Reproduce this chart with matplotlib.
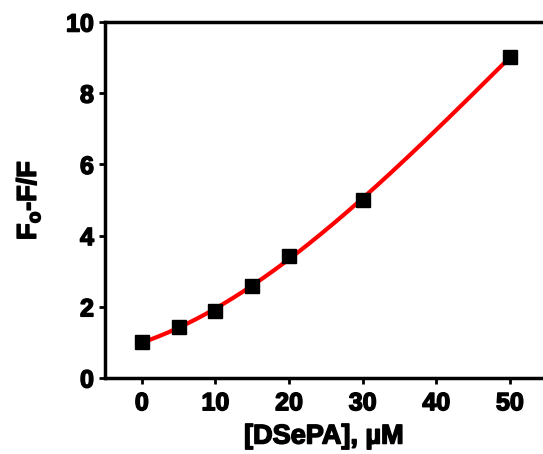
import matplotlib
matplotlib.use("Agg")
import matplotlib.pyplot as plt
import matplotlib.patheffects as pe
import numpy as np

# values
conc_um = [0, 5, 10, 15, 20, 30, 50]
f_ratio = [1.01, 1.42, 1.88, 2.59, 3.44, 5.0, 9.01]
x_ticks = [0, 10, 20, 30, 40, 50]
y_ticks = [0, 2, 4, 6, 8, 10]

plt.rcParams["font.family"] = ["Liberation Sans", "DejaVu Sans"]
plt.rcParams["font.weight"] = "bold"
plt.rcParams["mathtext.fontset"] = "custom"
plt.rcParams["mathtext.rm"] = "Liberation Sans:bold"
plt.rcParams["mathtext.bf"] = "Liberation Sans:bold"

heavy = [pe.withStroke(linewidth=1.1, foreground="black")]

fig = plt.figure(figsize=(5.43, 4.54), dpi=100)
ax = fig.add_axes([0.1934, 0.1674, 0.8066, 0.7841])

# smooth fitted curve through the measured points
coef = np.polyfit(conc_um, f_ratio, 3)
xs = np.linspace(min(conc_um), max(conc_um), 200)
ax.plot(xs, np.polyval(coef, xs), color="red", lw=3, zorder=2)
ax.plot(conc_um, f_ratio, "s", color="black", ms=9.5, zorder=3)

ax.set_xlim(-5, 54.5)
ax.set_ylim(0, 10)
ax.set_xticks(x_ticks)
ax.set_yticks(y_ticks)
for side in ["left", "bottom", "top"]:
    ax.spines[side].set_linewidth(2.5)
ax.spines["right"].set_visible(False)
ax.tick_params(direction="out", length=4.5, width=2, labelsize=18)
ax.tick_params(axis="x", pad=5)
ax.tick_params(axis="y", pad=3.5)
for lab in ax.get_xticklabels() + ax.get_yticklabels():
    lab.set_fontweight("bold")
    lab.set_path_effects(heavy)

ax.set_xlabel("[DSePA], µM", fontsize=19.5, fontweight="bold", labelpad=6,
              path_effects=heavy)
ax.set_ylabel(r"F$_\mathrm{o}$-F/F", fontsize=19.5, fontweight="bold", labelpad=17,
              path_effects=heavy)

fig.savefig("out.png", dpi=100)
